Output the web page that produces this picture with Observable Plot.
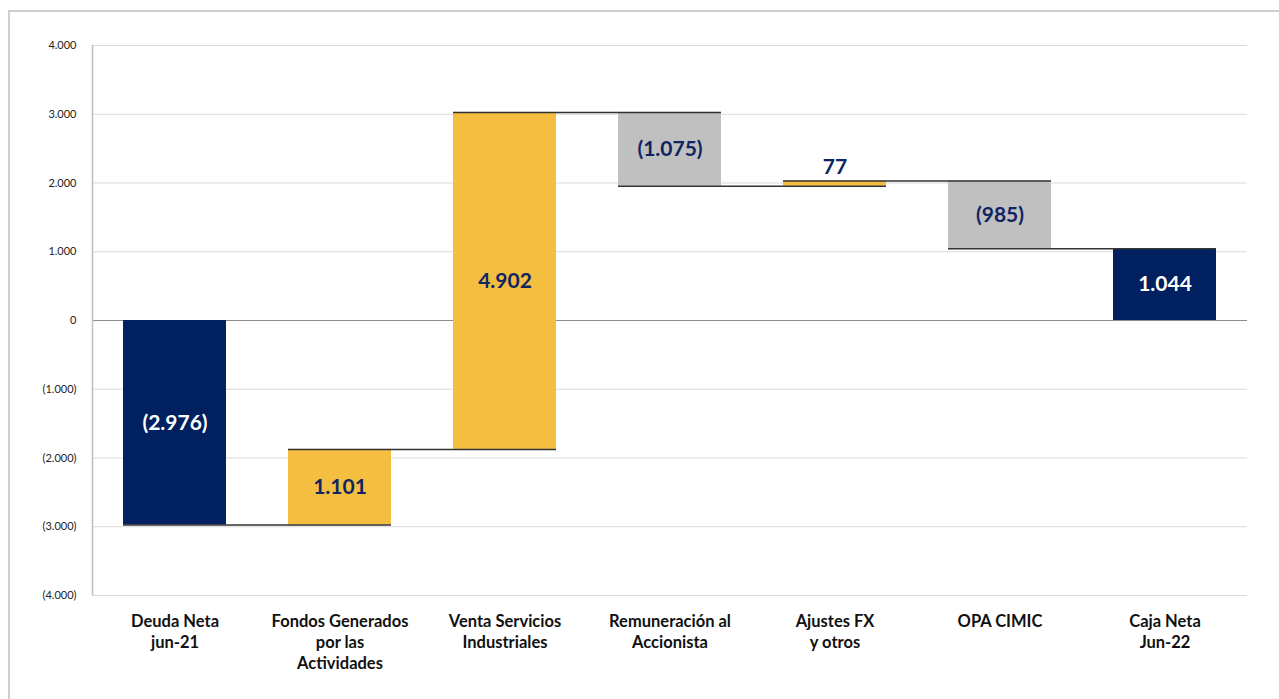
<!DOCTYPE html>
<html>
<head>
<meta charset="utf-8">
<script src="https://cdn.jsdelivr.net/npm/d3@7"></script>
<script src="https://cdn.jsdelivr.net/npm/@observablehq/plot@0.6"></script>
<style>
  html, body { margin: 0; padding: 0; background: #fff; }
  #wrap { position: relative; width: 1279px; height: 699px; overflow: hidden; }
  #frame { position: absolute; left: 8px; top: 10px; width: 1400px; height: 800px; border-left: 2px solid #d0d0d0; border-top: 2px solid #d0d0d0; }
  #chart { position: absolute; left: 0; top: 0; }
</style>
</head>
<body>
<div id="wrap"><div id="frame"></div><div id="chart"></div></div>
<script>
const categories = ["Deuda Neta\njun-21", "Fondos Generados\npor las\nActividades", "Venta Servicios\nIndustriales", "Remuneración al\nAccionista", "Ajustes FX\ny otros", "OPA CIMIC", "Caja Neta\nJun-22"];
const values = [-2976, 1101, 4902, -1075, 77, -985, 1044];
const kinds = ["total", "delta", "delta", "delta", "delta", "delta", "total"];
const yTicks = [-4000, -3000, -2000, -1000, 0, 1000, 2000, 3000, 4000];

const fmtNum = v => {
  const s = d3.format(",")(Math.abs(v)).replace(/,/g, ".");
  return v < 0 ? "(" + s + ")" : s;
};

// build waterfall table
let cum = 0;
const rows = values.map((v, i) => {
  let y1, y2;
  if (kinds[i] === "total") { y1 = 0; y2 = v; cum = v; }
  else { y1 = cum; y2 = cum + v; cum = y2; }
  const fill = kinds[i] === "total" ? "#002060" : (v >= 0 ? "#F4BE41" : "#C0C0C0");
  return { i, v, y1, y2, end: cum, fill, kind: kinds[i] };
});
const connectors = rows.slice(0, -1).map(r => ({ i: r.i, level: r.end }));

const hw = 0.312;
const navy = "#0F2462";

const plot = Plot.plot({
  width: 1279,
  height: 699,
  marginLeft: 92,
  marginRight: 32,
  marginTop: 45,
  marginBottom: 104,
  style: { fontFamily: "Lato, 'Open Sans', sans-serif", background: "transparent" },
  x: { domain: [-0.5, 6.5], axis: null },
  y: { domain: [-4000, 4000], axis: null },
  marks: [
    Plot.ruleY(yTicks.filter(d => d !== 0), { stroke: "#d9d9d9", strokeWidth: 1 }),
    Plot.ruleY([0], { stroke: "#8c8c8c", strokeWidth: 1 }),
    Plot.ruleX([-0.5], { stroke: "#bfbfbf", strokeWidth: 1.5 }),
    Plot.axisY({ ticks: yTicks, tickSize: 0, tickPadding: 16, tickFormat: fmtNum, fontSize: 11, fill: "#222", anchor: "left", label: null }),
    Plot.rect(rows, { x1: d => d.i - hw, x2: d => d.i + hw, y1: "y1", y2: "y2", fill: "fill" }),
    Plot.ruleY(connectors, { x1: d => d.i - hw, x2: d => d.i + 1 + hw, y: "level", stroke: "#333", strokeWidth: 1.5 }),
    Plot.text(rows.filter(d => Math.abs(d.v) >= 300), {
      x: "i", y: d => (d.y1 + d.y2) / 2, text: d => fmtNum(d.v),
      fill: d => d.kind === "total" ? "#ffffff" : navy,
      fontSize: 21, fontWeight: "bold"
    }),
    Plot.text(rows.filter(d => Math.abs(d.v) < 300), {
      x: "i", y: d => Math.max(d.y1, d.y2), text: d => fmtNum(d.v),
      fill: navy, fontSize: 21, fontWeight: "bold", dy: -14
    }),
    Plot.axisX({ ticks: d3.range(7), tickFormat: i => categories[i], tickSize: 0, tickPadding: 16, fontSize: 16.5, fontWeight: "bold", fill: "#111", lineHeight: 1.28, anchor: "bottom", label: null })
  ]
});
document.getElementById("chart").appendChild(plot);
</script>
</body>
</html>
